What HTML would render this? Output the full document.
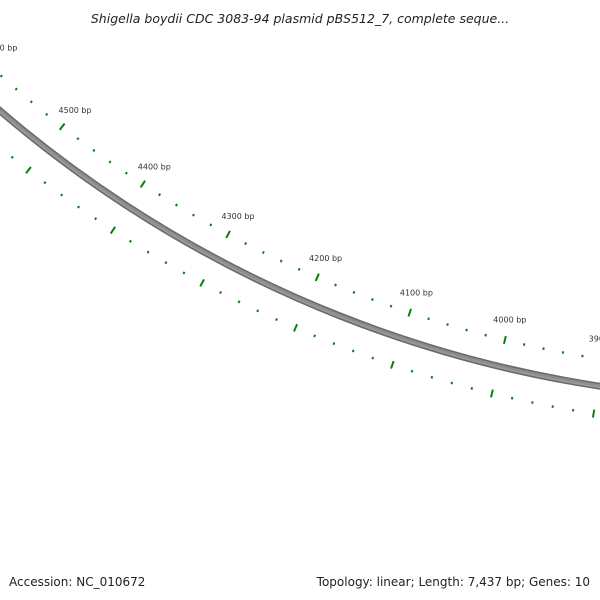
<!DOCTYPE html>
<html><head><meta charset="utf-8">
<style>
html,body{margin:0;padding:0;background:#fff;width:600px;height:600px;overflow:hidden}
svg{display:block}
</style></head>
<body>
<svg id="map" width="600" height="600" viewBox="0 0 600 600" xmlns="http://www.w3.org/2000/svg">
<rect width="600" height="600" fill="#fff"/>
<text x="300" y="23" text-anchor="middle" font-family="DejaVu Sans, Liberation Sans, sans-serif" font-size="12.5" font-style="italic" fill="#222">Shigella boydii CDC 3083-94 plasmid pBS512_7, complete seque...</text>
<g id="backbone"></g>
<g id="ticks"></g>
<g id="labels"></g>
<text x="9" y="586" font-family="DejaVu Sans, Liberation Sans, sans-serif" font-size="12" fill="#222">Accession: NC_010672</text>
<text x="590" y="586" text-anchor="end" font-family="DejaVu Sans, Liberation Sans, sans-serif" font-size="12" fill="#222">Topology: linear; Length: 7,437 bp; Genes: 10</text>
</svg>
<script>
const seqLength = 7437;
const tickStep = 20;
const majorStep = 100;
const labelEvery = 100;

const NS = "http://www.w3.org/2000/svg";
const cx = 781, cy = -799;
const rBackbone = 1199, rUpper = 1172, rLower = 1227, rLabel = 1151;
function ang(bp){ return (-90 + 360*bp/seqLength) * Math.PI/180; }
function pt(bp, r){ const a = ang(bp); return [cx + r*Math.cos(a), cy + r*Math.sin(a)]; }
function inView(p){ return p[0] > -20 && p[0] < 620 && p[1] > 40 && p[1] < 560; }

// backbone
const bb = document.getElementById('backbone');
[[7,'#6a6a6a'],[4,'#8c8c8c'],[1.5,'#9a9a9a']].forEach(([w,c],i)=>{
  const el = document.createElementNS(NS,'circle');
  
  
  el.setAttribute('cx', cx); el.setAttribute('cy', cy);
  el.setAttribute('r', i===2 ? rBackbone+1 : rBackbone);
  el.setAttribute('fill','none'); el.setAttribute('stroke', c); el.setAttribute('stroke-width', w);
  bb.appendChild(el);
});

const tg = document.getElementById('ticks');
const lg = document.getElementById('labels');
for (let bp = 0; bp < seqLength; bp += tickStep) {
  const major = bp % majorStep === 0;
  [rUpper, rLower].forEach(r=>{
    const half = major ? 4 : 1.2;
    const p1 = pt(bp, r-half), p2 = pt(bp, r+half);
    if (!inView(p1)) return;
    const l = document.createElementNS(NS,'line');
    
    
    l.setAttribute('x1', p1[0]); l.setAttribute('y1', p1[1]);
    l.setAttribute('x2', p2[0]); l.setAttribute('y2', p2[1]);
    l.setAttribute('stroke', '#0a7f0a'); l.setAttribute('stroke-width', '2');
    tg.appendChild(l);
  });
  if (bp % labelEvery === 0) {
    const p = pt(bp, rLabel);
    if (inView(p)) {
      const t = document.createElementNS(NS,'text');
      
      
      t.setAttribute('x', p[0]); t.setAttribute('y', p[1]+3);
      t.setAttribute('text-anchor','middle');
      t.setAttribute('font-family','DejaVu Sans, Liberation Sans, sans-serif');
      t.setAttribute('font-size','8');
      t.setAttribute('fill','#333');
      t.textContent = bp + ' bp';
      lg.appendChild(t);
    }
  }
}
</script>
</body></html>
